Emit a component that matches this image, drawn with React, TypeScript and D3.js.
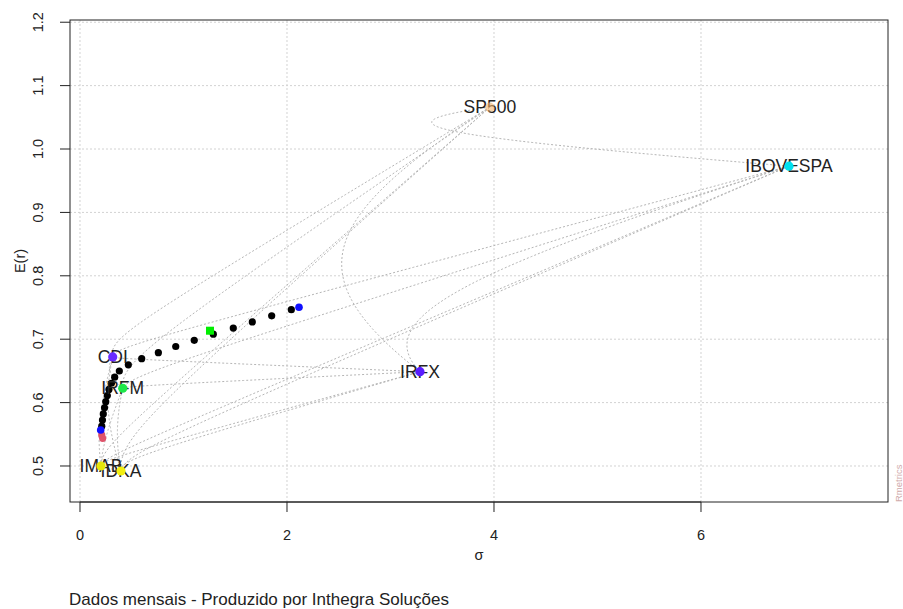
import React from "react";
import * as d3 from "d3";

// Single assets: risk (sigma) and expected return
const assetNames = ["SP500", "IBOVESPA", "IRFX", "CDI", "IRFM", "IMAB", "IDKA"];
const assetSigma = [3.96, 6.85, 3.285, 0.316, 0.413, 0.203, 0.396];
const assetMean = [1.066, 0.973, 0.6487, 0.672, 0.6226, 0.5, 0.4921];
const assetColors = ["#F5B46C", "#00E0EE", "#5A1CFF", "#6A2BFF", "#1EE84A", "#E6E60A", "#F2EE10"];

// Pairwise correlations used for the two-asset frontiers
const pairCorrelations: [string, string, number][] = [
  ["CDI", "IRFM", 0.3],
  ["CDI", "IMAB", 0.2],
  ["CDI", "IDKA", 0.2],
  ["CDI", "IRFX", 0.0],
  ["CDI", "IBOVESPA", 0.0],
  ["CDI", "SP500", -0.1],
  ["IRFM", "IMAB", 0.6],
  ["IRFM", "IDKA", 0.6],
  ["IRFM", "IRFX", 0.1],
  ["IRFM", "IBOVESPA", 0.2],
  ["IRFM", "SP500", 0.0],
  ["IMAB", "IDKA", 0.8],
  ["IMAB", "IRFX", 0.0],
  ["IMAB", "IBOVESPA", 0.1],
  ["IMAB", "SP500", 0.0],
  ["IDKA", "IRFX", 0.0],
  ["IDKA", "IBOVESPA", 0.1],
  ["IDKA", "SP500", 0.0],
  ["IRFX", "IBOVESPA", 0.2],
  ["IRFX", "SP500", 0.0],
  ["IBOVESPA", "SP500", -0.02],
];

// Efficient frontier portfolios
const frontierSigma = [
  0.21, 0.217, 0.225, 0.237, 0.249, 0.264, 0.28, 0.304, 0.335, 0.38,
  0.467, 0.596, 0.757, 0.925, 1.104, 1.288, 1.481, 1.665, 1.852, 2.042,
];
const frontierMean = [
  0.5628, 0.5725, 0.5821, 0.5918, 0.6015, 0.6111, 0.6208, 0.6305, 0.6401, 0.6498,
  0.6595, 0.6692, 0.6788, 0.6885, 0.6982, 0.7079, 0.7175, 0.7272, 0.7369, 0.7465,
];
// Inefficient part of the frontier
const inefficientSigma = [0.21, 0.219];
const inefficientMean = [0.549, 0.5437];

// Special portfolios
const minRiskPoint = { sigma: 0.2, mean: 0.5568 };
const maxReturnPoint = { sigma: 2.116, mean: 0.7503 };
const equalWeightPoint = { sigma: 1.256, mean: 0.7134 };

const xTicks = [0, 2, 4, 6];
const yTicks = [0.5, 0.6, 0.7, 0.8, 0.9, 1.0, 1.1, 1.2];

const W = 903;
const H = 609;
const box = { left: 70, right: 888, top: 20, bottom: 502 };
const FONT = "'Liberation Sans', Arial, Helvetica, sans-serif";

export default function App() {
  const x = d3.scaleLinear().domain([-0.0966, 7.8068]).range([box.left, box.right]);
  const y = d3.scaleLinear().domain([0.4432, 1.2035]).range([box.bottom, box.top]);

  const idx = (name: string) => assetNames.indexOf(name);
  const weights = d3.range(0, 1.00001, 0.01);
  const line = d3
    .line<[number, number]>()
    .x((d) => x(d[0]))
    .y((d) => y(d[1]));

  const twoAssetPaths = pairCorrelations.map(([a, b, rho]) => {
    const i = idx(a);
    const j = idx(b);
    const s1 = assetSigma[i], s2 = assetSigma[j];
    const m1 = assetMean[i], m2 = assetMean[j];
    const pts: [number, number][] = weights.map((w) => {
      const v = w * w * s1 * s1 + (1 - w) * (1 - w) * s2 * s2 + 2 * w * (1 - w) * rho * s1 * s2;
      return [Math.sqrt(Math.max(v, 0)), w * m1 + (1 - w) * m2];
    });
    return line(pts) as string;
  });

  return (
    <svg
      width={W}
      height={H}
      style={{ position: "absolute", left: 0, top: 0, background: "#fff" }}
      fontFamily={FONT}
    >
      <defs>
        <clipPath id="plotClip">
          <rect x={box.left} y={box.top} width={box.right - box.left} height={box.bottom - box.top} />
        </clipPath>
      </defs>
      <rect x={0} y={0} width={W} height={H} fill="#fff" />

      {/* grid */}
      <g stroke="#d2d2d2" strokeDasharray="2 2" strokeWidth={1}>
        {xTicks.map((t) => (
          <line key={"gx" + t} x1={x(t)} x2={x(t)} y1={box.top} y2={box.bottom} />
        ))}
        {yTicks.map((t) => (
          <line key={"gy" + t} x1={box.left} x2={box.right} y1={y(t)} y2={y(t)} />
        ))}
      </g>

      {/* two-asset frontiers */}
      <g clipPath="url(#plotClip)" fill="none" stroke="#b5b5b5" strokeDasharray="2 2" strokeWidth={1}>
        {twoAssetPaths.map((d, k) => (
          <path key={"p" + k} d={d} />
        ))}
      </g>

      {/* efficient frontier */}
      <g fill="#000">
        {frontierSigma.map((s, k) => (
          <circle key={"f" + k} cx={x(s)} cy={y(frontierMean[k])} r={3.6} />
        ))}
      </g>
      <g fill="#DF536B">
        {inefficientSigma.map((s, k) => (
          <circle key={"i" + k} cx={x(s)} cy={y(inefficientMean[k])} r={3.6} />
        ))}
      </g>
      <circle cx={x(minRiskPoint.sigma)} cy={y(minRiskPoint.mean)} r={3.8} fill="#1010ff" />
      <circle cx={x(maxReturnPoint.sigma)} cy={y(maxReturnPoint.mean)} r={3.8} fill="#1010ff" />
      <rect
        x={x(equalWeightPoint.sigma) - 4}
        y={y(equalWeightPoint.mean) - 4}
        width={8}
        height={8}
        fill="#00EE00"
      />

      {/* asset labels */}
      <g fontSize={17.5} fill="#222" textAnchor="middle">
        {assetNames.map((n, k) => (
          <text key={"t" + n} x={x(assetSigma[k])} y={y(assetMean[k]) + 6.2}>
            {n}
          </text>
        ))}
      </g>
      {/* asset points */}
      {assetNames.map((n, k) => (
        <circle
          key={"a" + n}
          cx={x(assetSigma[k])}
          cy={y(assetMean[k])}
          r={4.6}
          fill={assetColors[k]}
          opacity={n === "SP500" ? 0.6 : 1}
        />
      ))}

      {/* box */}
      <rect
        x={box.left}
        y={box.top}
        width={box.right - box.left}
        height={box.bottom - box.top}
        fill="none"
        stroke="#222"
        strokeWidth={1}
      />

      {/* x axis */}
      <g stroke="#222" strokeWidth={1}>
        <line x1={x(xTicks[0])} x2={x(xTicks[xTicks.length - 1])} y1={box.bottom} y2={box.bottom} />
        {xTicks.map((t) => (
          <line key={"xt" + t} x1={x(t)} x2={x(t)} y1={box.bottom} y2={box.bottom + 10} />
        ))}
      </g>
      <g fontSize={14.5} fill="#222" textAnchor="middle">
        {xTicks.map((t) => (
          <text key={"xl" + t} x={x(t)} y={540}>
            {String(t)}
          </text>
        ))}
      </g>
      <text x={(box.left + box.right) / 2} y={560} fontSize={14.5} fill="#222" textAnchor="middle">
        σ
      </text>

      {/* y axis */}
      <g stroke="#222" strokeWidth={1}>
        {yTicks.map((t) => (
          <line key={"yt" + t} x1={box.left - 10} x2={box.left} y1={y(t)} y2={y(t)} />
        ))}
      </g>
      <g fontSize={14.5} fill="#222" textAnchor="middle">
        {yTicks.map((t) => (
          <text key={"yl" + t} transform={`translate(43,${y(t)}) rotate(-90)`}>
            {t.toFixed(1)}
          </text>
        ))}
      </g>
      <text
        transform={`translate(25,${(box.top + box.bottom) / 2}) rotate(-90)`}
        fontSize={14.5}
        fill="#222"
        textAnchor="middle"
      >
        E(r)
      </text>

      {/* side note */}
      <text transform={`translate(902,${box.bottom}) rotate(-90)`} fontSize={9.5} fill="#cfaaaa">
        Rmetrics
      </text>

      {/* caption */}
      <text x={69} y={605} fontSize={17} fill="#222">
        Dados mensais - Produzido por Inthegra Soluções
      </text>
    </svg>
  );
}
